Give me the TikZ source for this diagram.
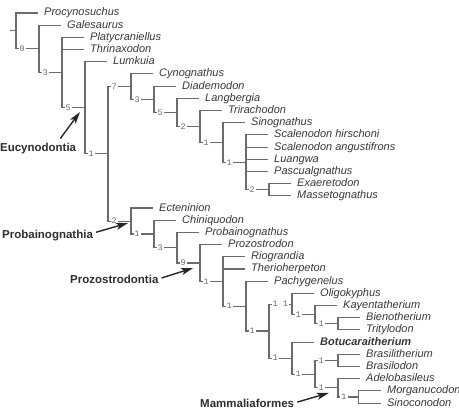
\documentclass[tikz,border=0pt]{standalone}
\usepackage{fontspec}
\setmainfont{Liberation Sans}
\newfontfamily\bremerfont{Liberation Mono}
\usepackage{tikz}
\usetikzlibrary{arrows.meta}
\definecolor{branchgray}{gray}{0.42}
\definecolor{taxongray}{gray}{0.22}
\definecolor{cladegray}{gray}{0.18}

\begin{document}
\begin{tikzpicture}[x=23pt,y=-12.19pt,
branch/.style={draw=branchgray,line width=1.1pt},
taxon/.style={anchor=west,inner xsep=6pt,inner ysep=1pt,xshift=-1pt,
text height=7pt,text depth=1pt,text=taxongray,
font=\fontsize{11}{12}\selectfont\itshape},
bremer/.style={anchor=west,fill=white,inner sep=1pt,text=branchgray,
font=\bremerfont\fontsize{8.5}{9}\selectfont},
clade/.style={anchor=west,inner sep=0pt,text height=8.5pt,text depth=0pt,
text=cladegray,font=\fontsize{11.5}{12}\selectfont\bfseries},
cladearrow/.style={draw=black!85,line width=1.4pt,
-{Stealth[length=12pt,width=7pt,inset=3pt]}}]
\useasboundingbox (-16pt,13pt) rectangle (443pt,-399pt);

\node[taxon] (proc) at (1,0) {Procynosuchus};
\node[taxon] (gale) at (2,1) {Galesaurus};
\node[taxon] (platy) at (3,2) {Platycraniellus};
\node[taxon] (thrin) at (3,3) {Thrinaxodon};
\node[taxon] (lumk) at (4,4) {Lumkuia};
\node[taxon] (cyno) at (6,5) {Cynognathus};
\node[taxon] (diad) at (7,6) {Diademodon};
\node[taxon] (langb) at (8,7) {Langbergia};
\node[taxon] (trira) at (9,8) {Trirachodon};
\node[taxon] (sino) at (10,9) {Sinognathus};
\node[taxon] (schir) at (11,10) {Scalenodon hirschoni};
\node[taxon] (scang) at (11,11) {Scalenodon angustifrons};
\node[taxon] (luang) at (11,12) {Luangwa};
\node[taxon] (pascu) at (11,13) {Pascualgnathus};
\node[taxon] (exae) at (12,14) {Exaeretodon};
\node[taxon] (masse) at (12,15) {Massetognathus};
\node[taxon] (ecten) at (6,16) {Ecteninion};
\node[taxon] (chini) at (7,17) {Chiniquodon};
\node[taxon] (proba) at (8,18) {Probainognathus};
\node[taxon] (prozo) at (9,19) {Prozostrodon};
\node[taxon] (riogr) at (10,20) {Riograndia};
\node[taxon] (therio) at (10,21) {Therioherpeton};
\node[taxon] (pachy) at (11,22) {Pachygenelus};
\node[taxon] (oligo) at (13,23) {Oligokyphus};
\node[taxon] (kayen) at (14,24) {Kayentatherium};
\node[taxon] (bieno) at (15,25) {Bienotherium};
\node[taxon] (trity) at (15,26) {Tritylodon};
\node[taxon,font=\fontsize{11}{12}\selectfont\bfseries\itshape] (botu) at (13,27) {Botucaraitherium};
\node[taxon] (brasi) at (15,28) {Brasilitherium};
\node[taxon] (braso) at (15,29) {Brasilodon};
\node[taxon] (adelo) at (15,30) {Adelobasileus};
\node[taxon] (morga) at (15.91,31) {Morganucodon};
\node[taxon] (sinoc) at (15.91,32) {Sinoconodon};

\coordinate (root) at (0,1.47);
\coordinate (n1) at (1,2.945);
\coordinate (n2) at (2,4.89);
\coordinate (n3) at (3,7.78);
\coordinate (n4) at (4,11.55);
\coordinate (cyn) at (5,6.04);
\coordinate (cyn3) at (6,7.08);
\coordinate (cyn5) at (7,8.16);
\coordinate (tra2) at (8,9.31);
\coordinate (sin1) at (9,10.63);
\coordinate (tra1) at (10,12.25);
\coordinate (exm) at (11,14.5);
\coordinate (prb) at (5,17.07);
\coordinate (prb1) at (6,18.13);
\coordinate (prb3) at (7,19.26);
\coordinate (prz) at (8,20.51);
\coordinate (rio) at (9,22.02);
\coordinate (pac) at (10,24.05);
\coordinate (mam) at (11,26.09);
\coordinate (tri) at (12,23.88);
\coordinate (kay) at (13,24.75);
\coordinate (bie) at (14,25.5);
\coordinate (bot) at (12,28.31);
\coordinate (bra) at (13,29.63);
\coordinate (brs) at (14,28.5);
\coordinate (ade) at (14,30.75);
\coordinate (mor) at (14.91,31.5);

\draw[branch] (root) -- ++(left:6pt);
\draw[branch] (root) |- (proc.west);
\draw[branch] (root) |- (n1) node[bremer,pos=.545] {0};
\draw[branch] (n1) |- (gale.west);
\draw[branch] (n1) |- (n2) node[bremer,pos=.545] {3};
\draw[branch] (n2) |- (platy.west);
\draw[branch] (n2) |- (thrin.west);
\draw[branch] (n2) |- (n3) node[bremer,pos=.545] {5};
\draw[branch] (n3) |- (lumk.west);
\draw[branch] (n3) |- (n4) node[bremer,pos=.545] {1};
\draw[branch] (n4) |- (cyn) node[bremer,pos=.545] {7};
\draw[branch] (n4) |- (prb) node[bremer,pos=.545] {2};
\draw[branch] (cyn) |- (cyno.west);
\draw[branch] (cyn) |- (cyn3) node[bremer,pos=.545] {3};
\draw[branch] (cyn3) |- (diad.west);
\draw[branch] (cyn3) |- (cyn5) node[bremer,pos=.545] {5};
\draw[branch] (cyn5) |- (langb.west);
\draw[branch] (cyn5) |- (tra2) node[bremer,pos=.545] {2};
\draw[branch] (tra2) |- (trira.west);
\draw[branch] (tra2) |- (sin1) node[bremer,pos=.545] {1};
\draw[branch] (sin1) |- (sino.west);
\draw[branch] (sin1) |- (tra1) node[bremer,pos=.545] {1};
\draw[branch] (tra1) |- (schir.west);
\draw[branch] (tra1) |- (scang.west);
\draw[branch] (tra1) |- (luang.west);
\draw[branch] (tra1) |- (pascu.west);
\draw[branch] (tra1) |- (exm) node[bremer,pos=.545] {2};
\draw[branch] (exm) |- (exae.west);
\draw[branch] (exm) |- (masse.west);
\draw[branch] (prb) |- (ecten.west);
\draw[branch] (prb) |- (prb1) node[bremer,pos=.545] {1};
\draw[branch] (prb1) |- (chini.west);
\draw[branch] (prb1) |- (prb3) node[bremer,pos=.545] {3};
\draw[branch] (prb3) |- (proba.west);
\draw[branch] (prb3) |- (prz) node[bremer,pos=.545] {9};
\draw[branch] (prz) |- (prozo.west);
\draw[branch] (prz) |- (rio) node[bremer,pos=.545] {1};
\draw[branch] (rio) |- (riogr.west);
\draw[branch] (rio) |- (therio.west);
\draw[branch] (rio) |- (pac) node[bremer,pos=.545] {1};
\draw[branch] (pac) |- (pachy.west);
\draw[branch] (pac) |- (mam) node[bremer,pos=.545] {1};
\draw[branch] (mam) |- (tri) node[bremer,pos=.545] {1 1};
\draw[branch] (mam) |- (bot) node[bremer,pos=.545] {1};
\draw[branch] (tri) |- (oligo.west);
\draw[branch] (tri) |- (kay) node[bremer,pos=.545] {1};
\draw[branch] (kay) |- (kayen.west);
\draw[branch] (kay) |- (bie) node[bremer,pos=.545] {1};
\draw[branch] (bie) |- (bieno.west);
\draw[branch] (bie) |- (trity.west);
\draw[branch] (bot) |- (botu.west);
\draw[branch] (bot) |- (bra) node[bremer,pos=.545] {1};
\draw[branch] (bra) |- (brs) node[bremer,pos=.545] {1};
\draw[branch] (bra) |- (ade) node[bremer,pos=.545] {1};
\draw[branch] (brs) |- (brasi.west);
\draw[branch] (brs) |- (braso.west);
\draw[branch] (ade) |- (adelo.west);
\draw[branch] (ade) |- (mor) node[bremer,pos=.545] {1};
\draw[branch] (mor) |- (morga.west);
\draw[branch] (mor) |- (sinoc.west);

\node[clade] (eucy) at (-0.70,10.99) {Eucynodontia};
\node[clade] (probn) at (-0.61,18.15) {Probainognathia};
\node[clade] (prozn) at (2.35,21.82) {Prozostrodontia};
\node[clade] (mamm) at (8.0,32.0) {Mammaliaformes};
\coordinate (eucy-tip) at (2.78,8.12);
\coordinate (probn-tip) at (4.87,17.23);
\coordinate (prozn-tip) at (7.70,20.92);
\coordinate (mamm-tip) at (13.6,31.17);
\draw[cladearrow] ([xshift=-16pt,yshift=4pt]eucy.north east) -- (eucy-tip);
\draw[cladearrow] ([xshift=3pt,yshift=2pt]probn.east) -- (probn-tip);
\draw[cladearrow] ([xshift=3pt,yshift=1pt]prozn.east) -- (prozn-tip);
\draw[cladearrow] ([xshift=3pt,yshift=1pt]mamm.east) -- (mamm-tip);
\end{tikzpicture}
\end{document}
